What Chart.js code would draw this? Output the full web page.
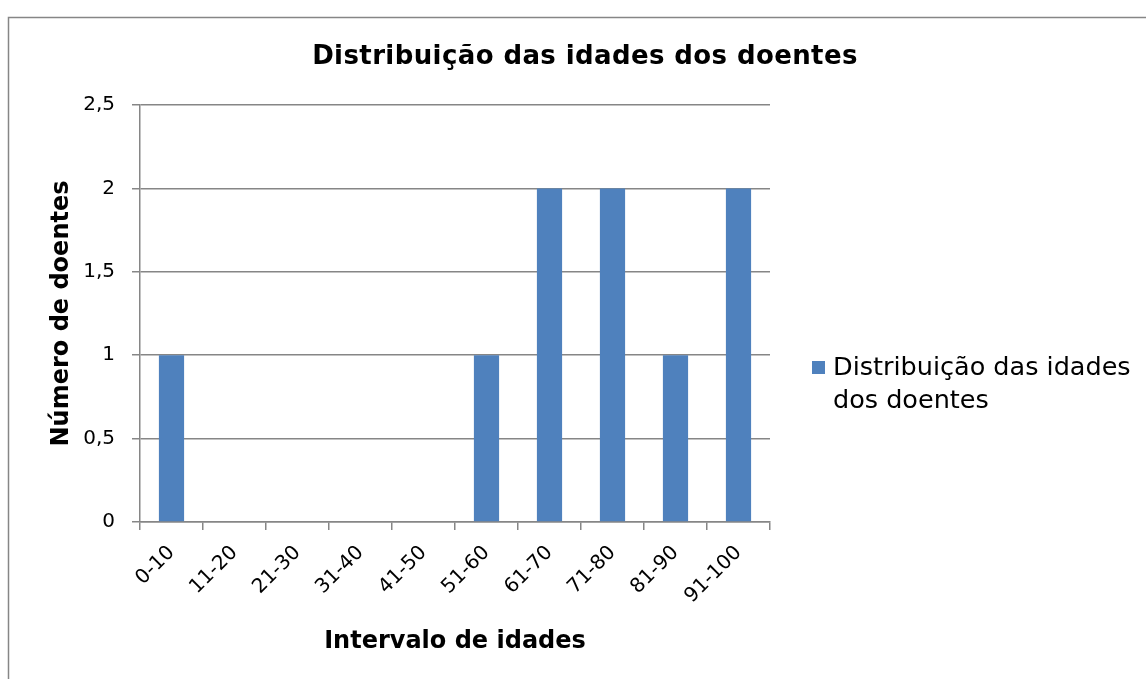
<!DOCTYPE html>
<html>
<head>
<meta charset="utf-8">
<script src="https://cdn.jsdelivr.net/npm/chart.js@4/dist/chart.umd.min.js"></script>
<style>
html, body { margin: 0; padding: 0; background: #fff; }
#caixa { width: 1146px; height: 679px; }
</style>
</head>
<body>
<div id="caixa"><canvas id="idades" width="1146" height="679"></canvas></div>
<script>
// Dados
var intervalos = ["0-10", "11-20", "21-30", "31-40", "41-50", "51-60", "61-70", "71-80", "81-90", "91-100"];
var doentes = [1, 0, 0, 0, 0, 1, 2, 2, 1, 2];
var valoresY = [0, 0.5, 1, 1.5, 2, 2.5];
var rotulosY = ["0", "0,5", "1", "1,5", "2", "2,5"];
var titulo = "Distribuição das idades dos doentes";
var nomeSerie = ["Distribuição das idades", "dos doentes"];

var fonte = "'DejaVu Sans', Verdana, sans-serif";
var cinza = '#868686';
var azul = '#4F81BD';

// Moldura, título e legenda desenhados à mão (a legenda quebra em duas linhas)
var extras = {
    id: 'extras',
    beforeDraw: function(chart) {
        var ctx = chart.ctx;
        ctx.save();
        ctx.fillStyle = '#fff';
        ctx.fillRect(0, 0, chart.width, chart.height);
        ctx.strokeStyle = cinza;
        ctx.lineWidth = 1.5;
        ctx.strokeRect(8.5, 17.5, chart.width + 20, chart.height + 20);
        ctx.restore();
    },
    afterDraw: function(chart) {
        var ctx = chart.ctx;
        ctx.save();
        ctx.fillStyle = '#000';
        ctx.textBaseline = 'middle';
        ctx.textAlign = 'center';
        ctx.letterSpacing = '0.4px';
        ctx.font = "bold 26px " + fonte;
        ctx.fillText(titulo, 585, 57);

        ctx.letterSpacing = '0px';
        ctx.fillStyle = azul;
        ctx.fillRect(812, 361, 13, 13);
        ctx.fillStyle = '#000';
        ctx.textAlign = 'left';
        ctx.font = "25.5px " + fonte;
        for (var i = 0; i < nomeSerie.length; i++) {
            ctx.fillText(nomeSerie[i], 833, 368 + i * 33);
        }
        ctx.restore();
    }
};

var ctx = document.getElementById('idades').getContext('2d');
var grafico = new Chart(ctx, {
    type: 'bar',
    data: {
        labels: intervalos,
        datasets: [{
            label: nomeSerie.join(' '),
            data: doentes,
            backgroundColor: azul,
            borderWidth: 0,
            barPercentage: 0.4,
            categoryPercentage: 1
        }]
    },
    options: {
        responsive: false,
        animation: false,
        devicePixelRatio: 1,
        layout: { padding: { top: 105, right: 376, bottom: 10, left: 30 } },
        plugins: {
            legend: { display: false },
            title: { display: false },
            tooltip: { enabled: false }
        },
        scales: {
            x: {
                grid: { drawOnChartArea: false, drawTicks: true, tickLength: 8, color: cinza, lineWidth: 1.5, offset: true },
                border: { color: cinza, width: 1.5 },
                ticks: { color: '#000', font: { family: fonte, size: 20 }, minRotation: 45, maxRotation: 45, padding: 11 },
                title: { display: true, text: 'Intervalo de idades', color: '#000',
                         font: { family: fonte, size: 24, weight: 'bold' }, padding: { top: 0, bottom: 13 } },
                afterFit: function(escala) { escala.height = 147; }
            },
            y: {
                min: 0,
                max: 2.5,
                grid: { color: cinza, lineWidth: 1.5, tickLength: 8 },
                border: { color: cinza, width: 1.5 },
                ticks: {
                    stepSize: 0.5,
                    color: '#000',
                    padding: 17,
                    font: { family: fonte, size: 20 },
                    callback: function(v) {
                        var i = valoresY.indexOf(v);
                        return i >= 0 ? rotulosY[i] : v;
                    }
                },
                title: { display: true, text: 'Número de doentes', color: '#000',
                         font: { family: fonte, size: 24, weight: 'bold' }, padding: { top: 17, bottom: 0 } },
                afterFit: function(escala) { escala.width = 110; }
            }
        }
    },
    plugins: [extras]
});
</script>
</body>
</html>
